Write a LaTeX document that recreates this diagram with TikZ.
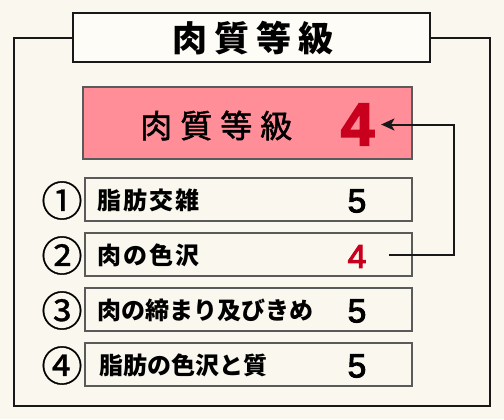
\documentclass[tikz,border=0pt]{standalone}
\usepackage{fontspec}
\setmainfont{Noto Sans CJK JP}
\newfontfamily\digitfont[FakeBold=3]{Liberation Sans}
\usetikzlibrary{arrows.meta}
\definecolor{gradecolor0000}{RGB}{250,248,238}
\definecolor{gradecolor0001}{RGB}{24,24,24}
\definecolor{gradecolor0002}{RGB}{255,142,153}
\definecolor{gradecolor0003}{RGB}{200,0,30}
\definecolor{gradecolor0004}{RGB}{90,90,90}
\definecolor{gradecolor0005}{RGB}{253,252,246}

\begin{document}
\begin{tikzpicture}[yscale=-1,x=0.75pt,y=0.75pt
,framestyle/.style={color=gradecolor0001,line width=1.3pt}
,titlebox/.style={draw=gradecolor0001,fill=gradecolor0005,line width=1.3pt,minimum width=267.75pt,minimum height=36.75pt,inner sep=0pt}
,resultbox/.style={draw=gradecolor0004,fill=gradecolor0002,line width=1.1pt,minimum width=246.75pt,minimum height=54pt,inner sep=0pt}
,rowbox/.style={draw=gradecolor0004,line width=0.8pt,minimum width=245.25pt,minimum height=32.25pt,inner sep=0pt}
,rowtext/.style={anchor=west,inner sep=0pt,font=\bfseries\fontsize{18}{18}\selectfont}
,rowvalue/.style={inner sep=0pt,font=\digitfont\fontsize{25}{25}\selectfont}
,rownum/.style={inner sep=0pt,font=\fontsize{31}{31}\selectfont\addfontfeatures{FakeBold=0.8}}
]
\fill[gradecolor0000] (0,0) rectangle (504,419);
\draw[framestyle] (73,38) -- (14,38) -- (14,406) -- (490,406) -- (490,38) -- (430,38);
\node[titlebox] (title) at (251.5,37.5) {};
\node[anchor=west,inner sep=0pt,font=\bfseries\fontsize{26.3}{26.3}\selectfont\addfontfeatures{LetterSpace=20}] (titletext) at (172,38) {肉質等級};
\node[resultbox] (result) at (247.5,123) {};
\node[anchor=west,inner sep=0pt,font=\fontsize{24}{24}\selectfont\addfontfeatures{LetterSpace=25,FakeBold=1.5}] (resulttext) at (140,125.5) {肉質等級};
\node[inner sep=0pt,inner xsep=5pt,text=gradecolor0003,font=\digitfont\bfseries\fontsize{45}{45}\selectfont] (g4) at (357.5,124.5) {4};
% rows
\node[rowbox] (row1) at (248.5,199.5) {};
\node[rowbox] (row2) at (248.5,254.5) {};
\node[rowbox] (row3) at (248.5,309.5) {};
\node[rowbox] (row4) at (248.5,364.5) {};
\node[rownum] (n1) at (62,200.5) {①};
\node[rownum] (n2) at (62,255.5) {②};
\node[rownum] (n3) at (62,310.5) {③};
\node[rownum] (n4) at (62,365.5) {④};
\node[rowtext,font=\bfseries\fontsize{18}{18}\selectfont\addfontfeatures{LetterSpace=8}] (t1) at (97,200.5) {脂肪交雑};
\node[rowtext,font=\bfseries\fontsize{18}{18}\selectfont\addfontfeatures{LetterSpace=8}] (t2) at (97,255.5) {肉の色沢};
\node[rowtext] (t3) at (97,310.5) {肉の締まり及びきめ};
\node[rowtext] (t4) at (99,365.5) {脂肪の色沢と質};
\node[rowvalue] (v1) at (357,201) {5};
\node[rowvalue,text=gradecolor0003] (v2) at (357,256.5) {4};
\node[rowvalue] (v3) at (357,311) {5};
\node[rowvalue] (v4) at (357,366) {5};
% arrow from row 2 up to the grade
\coordinate (turn) at (454,0);
\coordinate (from) at ([xshift=16.5pt,yshift=-1pt]v2.east);
\draw[color=gradecolor0001,line width=1.5pt,-{Stealth[length=10pt,width=9pt,inset=2.5pt]}] (from) -- (from -| turn) |- (g4.east);
\end{tikzpicture}
\end{document}
